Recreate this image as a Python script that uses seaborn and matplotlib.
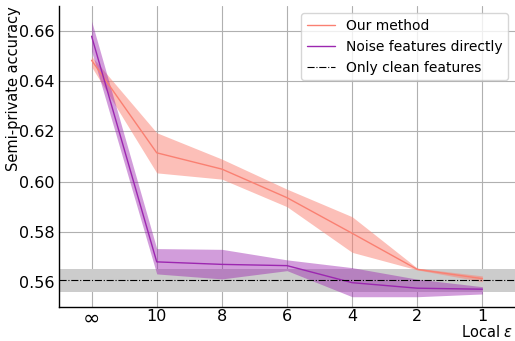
import matplotlib
matplotlib.use("Agg")
import matplotlib.pyplot as plt
import seaborn as sns
import numpy as np
import pandas as pd

eps_labels = ["∞", "10", "8", "6", "4", "2", "1"]

ours_mean = [0.6484, 0.6115, 0.6050, 0.5936, 0.5794, 0.5650, 0.5613]
ours_low = [0.6458, 0.6035, 0.6010, 0.5900, 0.5718, 0.5648, 0.5601]
ours_high = [0.6500, 0.6195, 0.6090, 0.5970, 0.5860, 0.5655, 0.5624]

noise_mean = [0.6580, 0.5680, 0.5670, 0.5665, 0.5597, 0.5575, 0.5571]
noise_low = [0.6520, 0.5632, 0.5612, 0.5645, 0.5541, 0.5541, 0.5552]
noise_high = [0.6640, 0.5733, 0.5730, 0.5688, 0.5657, 0.5611, 0.5581]

clean_mean = 0.5606
clean_low = 0.5558
clean_high = 0.5653

sns.set_style("whitegrid")
plt.rcParams["font.family"] = ["DejaVu Sans"]
plt.rcParams["text.color"] = "black"
plt.rcParams["axes.labelcolor"] = "black"
plt.rcParams["xtick.color"] = "black"
plt.rcParams["ytick.color"] = "black"

fig = plt.figure(figsize=(5.15, 3.41), dpi=100)
ax = fig.add_axes([0.1146, 0.0997, 0.8854, 0.8823])

pos = np.arange(len(eps_labels))
df = pd.DataFrame({"pos": pos, "ours": ours_mean, "noise": noise_mean})

ours_color = "#fa8072"
noise_color = "#9c27b0"

ax.axhspan(clean_low, clean_high, color="#cccccc", zorder=1, lw=0)
ax.axhline(clean_mean, color="black", lw=0.8, ls="-.", zorder=5,
           label="Only clean features")

ax.fill_between(pos, ours_low, ours_high, color=ours_color, alpha=0.5, lw=0, zorder=2)
ax.fill_between(pos, noise_low, noise_high, color=noise_color, alpha=0.45, lw=0, zorder=2)

sns.lineplot(data=df, x="pos", y="ours", ax=ax, color=ours_color, lw=1.0,
             label="Our method", zorder=3)
sns.lineplot(data=df, x="pos", y="noise", ax=ax, color=noise_color, lw=1.0,
             label="Noise features directly", zorder=3)

ax.set_xlim(-0.5, 6.5)
ax.set_ylim(0.55, 0.67)
ax.set_xticks(pos)
ax.set_xticklabels(eps_labels)
ax.set_yticks([0.56, 0.58, 0.60, 0.62, 0.64, 0.66])
ax.set_yticklabels(["0.56", "0.58", "0.60", "0.62", "0.64", "0.66"])
ax.tick_params(axis="y", labelsize=11.5, length=0, pad=3)
ax.tick_params(axis="x", labelsize=11.5, length=0, pad=1.5)
xt = ax.get_xticklabels()
xt[0].set_fontsize(15)

ax.set_xlabel("Local $\\varepsilon$", fontsize=10.5, loc="right")
ax.xaxis.label.set_verticalalignment("bottom")
ax.xaxis.set_label_coords(0.996, -0.110)
ax.set_ylabel("Semi-private accuracy", fontsize=10.5, loc="top")
ax.yaxis.set_label_coords(-0.083, 1.0)

ax.grid(True, color="#b0b0b0", lw=0.8)
for s in ["top", "right"]:
    ax.spines[s].set_visible(False)
for s in ["left", "bottom"]:
    ax.spines[s].set_color("black")
    ax.spines[s].set_linewidth(1.0)

handles, labels = ax.get_legend_handles_labels()
order = [labels.index("Our method"), labels.index("Noise features directly"),
         labels.index("Only clean features")]
ax.legend([handles[i] for i in order], [labels[i] for i in order],
          loc="upper right", fontsize=10, frameon=True, framealpha=0.8,
          bbox_to_anchor=(1.0, 1.0))

fig.savefig("out.png", dpi=100)
